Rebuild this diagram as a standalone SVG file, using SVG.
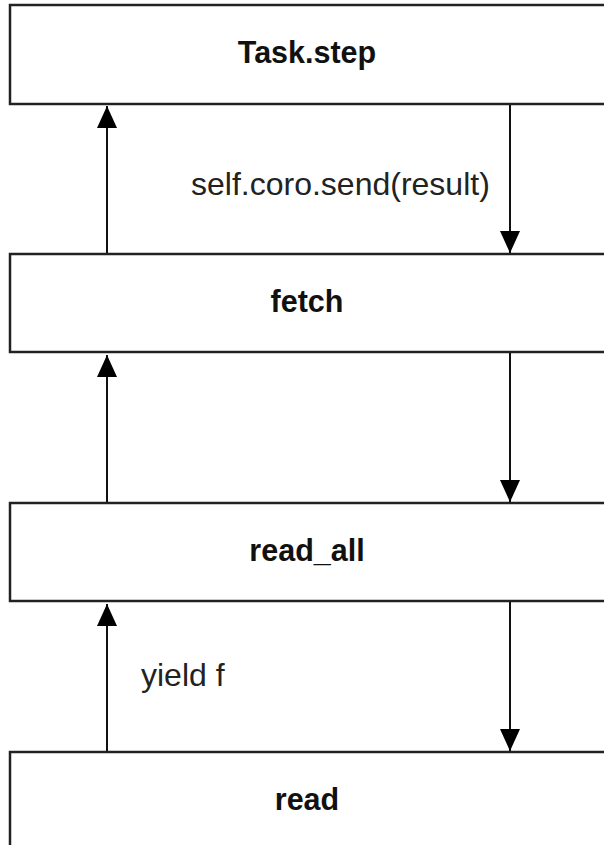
<svg xmlns="http://www.w3.org/2000/svg" width="604" height="845" viewBox="0 0 604 845">
  <style>
    .box { fill: #ffffff; stroke: #222222; stroke-width: 2.5; }
    .name { font-family: "Liberation Sans", Arial, sans-serif; font-weight: bold; font-size: 30.5px; fill: #111111; text-anchor: middle; }
    .lbl { font-family: "Liberation Sans", Arial, sans-serif; font-size: 32px; fill: #222222; }
    .edge { stroke: #111111; stroke-width: 2; fill: none; }
  </style>
  <defs>
    <marker id="head" viewBox="0 0 22 20" refX="22" refY="10" markerWidth="22" markerHeight="20" markerUnits="userSpaceOnUse" orient="auto">
      <path d="M0,0 L22,10 L0,20 Z" fill="#000000"/>
    </marker>
  </defs>
  <rect width="604" height="845" fill="#ffffff"/>

  <g id="task-step">
    <rect class="box" x="10" y="5" width="620" height="99"/>
    <text class="name" x="307" y="63">Task.step</text>
  </g>
  <g id="fetch">
    <rect class="box" x="10" y="254" width="620" height="98"/>
    <text class="name" x="307" y="312">fetch</text>
  </g>
  <g id="read-all">
    <rect class="box" x="10" y="503" width="620" height="98"/>
    <text class="name" x="307" y="561">read_all</text>
  </g>
  <g id="read">
    <rect class="box" x="10" y="752" width="620" height="120"/>
    <text class="name" x="307" y="810">read</text>
  </g>

  <g id="connectors">
    <!-- upward returns on the left -->
    <line class="edge" x1="107" y1="253" x2="107" y2="106" marker-end="url(#head)"/>
    <line class="edge" x1="107" y1="502" x2="107" y2="355" marker-end="url(#head)"/>
    <line class="edge" x1="107" y1="751" x2="107" y2="604" marker-end="url(#head)"/>
    <!-- downward sends on the right -->
    <line class="edge" x1="510" y1="105" x2="510" y2="253" marker-end="url(#head)"/>
    <line class="edge" x1="510" y1="353" x2="510" y2="502" marker-end="url(#head)"/>
    <line class="edge" x1="510" y1="602" x2="510" y2="751" marker-end="url(#head)"/>
    <text class="lbl" x="191" y="195">self.coro.send(result)</text>
    <text class="lbl" x="141" y="686">yield f</text>
  </g>
</svg>
